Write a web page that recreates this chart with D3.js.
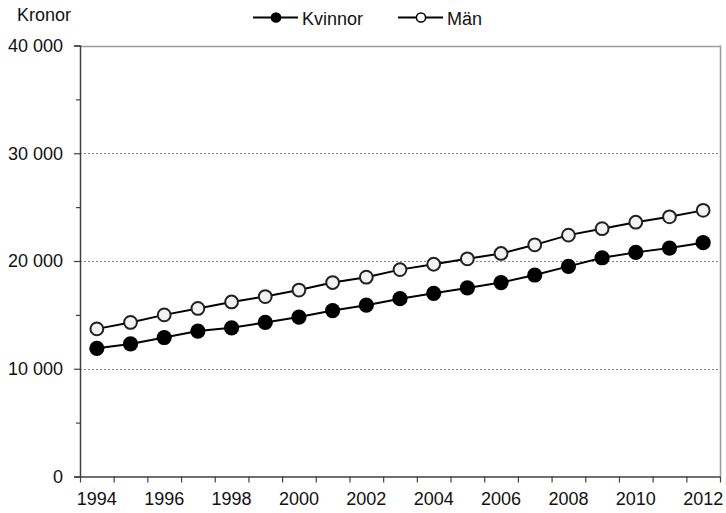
<!DOCTYPE html>
<html><head><meta charset="utf-8">
<script src="https://cdn.jsdelivr.net/npm/d3@7"></script>
<style>body{margin:0;background:#fff;}svg{display:block;font-family:"Liberation Sans",Arial,sans-serif;}</style>
</head><body>
<svg id="c" width="726" height="513"></svg>
<script>
const years = [1994,1995,1996,1997,1998,1999,2000,2001,2002,2003,2004,2005,2006,2007,2008,2009,2010,2011,2012];
const kvinnor = [11900,12300,12900,13500,13800,14300,14800,15400,15900,16500,17000,17500,18000,18700,19500,20300,20800,21200,21700];
const man = [13700,14300,15000,15600,16200,16700,17300,18000,18500,19200,19700,20200,20700,21500,22400,23000,23600,24100,24700];
const yTicks = [0,10000,20000,30000,40000];
const yMinor = [5000,15000,25000,35000];
const xLabels = [1994,1996,1998,2000,2002,2004,2006,2008,2010,2012];

const FONT = '"Liberation Sans",Arial,sans-serif';
const svg = d3.select("#c");
const L = 80, R = 720, T = 45.5, B = 476.5;
const x = d3.scaleBand().domain(years).range([L, R]).padding(0);
const xb = d3.scaleLinear().domain([0, years.length]).range([L, R]);
const y = d3.scaleLinear().domain([0, 40000]).range([B, T]);
const loc = d3.formatLocale({decimal:",", thousands:" ", grouping:[3], currency:["",""]});
const fmt = loc.format(",");

// gridlines
svg.append("g").selectAll("line").data(yTicks.filter(d => d > 0 && d < 40000)).join("line")
  .attr("x1", L).attr("x2", R).attr("y1", d => Math.round(y(d)) + 0.5).attr("y2", d => Math.round(y(d)) + 0.5)
  .attr("stroke", "#808080").attr("stroke-width", 1).attr("stroke-dasharray", "2,2");

// top and right frame
svg.append("line").attr("x1", L).attr("x2", R + 0.5).attr("y1", Math.round(T) + 0.5).attr("y2", Math.round(T) + 0.5)
  .attr("stroke", "#9a9a9a").attr("stroke-width", 1.5);
svg.append("line").attr("x1", R + 0.5).attr("x2", R + 0.5).attr("y1", T).attr("y2", B)
  .attr("stroke", "#9a9a9a").attr("stroke-width", 1.5);

// y axis
const ya = svg.append("g").attr("transform", `translate(${L},0)`)
  .call(d3.axisLeft(y).tickValues(yTicks).tickFormat(fmt).tickSize(6).tickPadding(11));
ya.attr("font-size", 18).attr("font-family", FONT);
ya.select(".domain").attr("stroke", "#404040").attr("stroke-width", 1.5);
ya.selectAll(".tick line").attr("stroke", "#404040").attr("stroke-width", 1.2);
ya.selectAll("text").attr("fill", "#111");
const ym = svg.append("g").attr("transform", `translate(${L},0)`)
  .call(d3.axisLeft(y).tickValues(yMinor).tickFormat("").tickSize(4));
ym.select(".domain").remove();
ym.selectAll(".tick line").attr("stroke", "#404040").attr("stroke-width", 1.2);

// x axis boundary ticks
const xa = svg.append("g").attr("transform", `translate(0,${B})`)
  .call(d3.axisBottom(xb).tickValues(d3.range(years.length + 1)).tickFormat("").tickSize(6).tickSizeOuter(0));
xa.select(".domain").attr("stroke", "#404040").attr("stroke-width", 1.5);
xa.selectAll(".tick line").attr("stroke", "#404040").attr("stroke-width", 1.2);
// x labels
const xl = svg.append("g").attr("transform", `translate(0,${B})`)
  .call(d3.axisBottom(x).tickValues(xLabels).tickSize(0).tickPadding(16));
xl.attr("font-size", 18).attr("font-family", FONT);
xl.select(".domain").remove();
xl.selectAll("text").attr("fill", "#111");

const cx = d => x(d) + x.bandwidth() / 2;
const line = d3.line().x((d, i) => cx(years[i])).y(d => y(d));

svg.append("path").datum(man).attr("d", line).attr("fill", "none").attr("stroke", "#000").attr("stroke-width", 2);
svg.append("path").datum(kvinnor).attr("d", line).attr("fill", "none").attr("stroke", "#000").attr("stroke-width", 2);

svg.append("g").selectAll("circle").data(man).join("circle")
  .attr("cx", (d, i) => cx(years[i])).attr("cy", d => y(d)).attr("r", 6.4)
  .attr("fill", "#f2f2f2").attr("stroke", "#222").attr("stroke-width", 2);
svg.append("g").selectAll("circle").data(kvinnor).join("circle")
  .attr("cx", (d, i) => cx(years[i])).attr("cy", d => y(d)).attr("r", 7.6)
  .attr("fill", "#000").attr("stroke", "none");

// axis title
svg.append("text").attr("x", 17).attr("y", 21).attr("font-size", 18).attr("font-family", FONT).attr("fill", "#111").text("Kronor");

// legend
const lg = svg.append("g");
const items = [{name:"Kvinnor", fill:"#000", x0:253}, {name:"Män", fill:"#fff", x0:398}];
items.forEach(it => {
  lg.append("line").attr("x1", it.x0).attr("x2", it.x0 + 45).attr("y1", 17.5).attr("y2", 17.5).attr("stroke", "#000").attr("stroke-width", 1.8);
  lg.append("circle").attr("cx", it.x0 + 23).attr("cy", 17.5).attr("r", 4.6).attr("fill", it.fill).attr("stroke", "#000").attr("stroke-width", 1.5);
  lg.append("text").attr("x", it.x0 + 49).attr("y", 25).attr("font-size", 18).attr("font-family", FONT).attr("fill", "#111").text(it.name);
});
</script>
</body></html>
